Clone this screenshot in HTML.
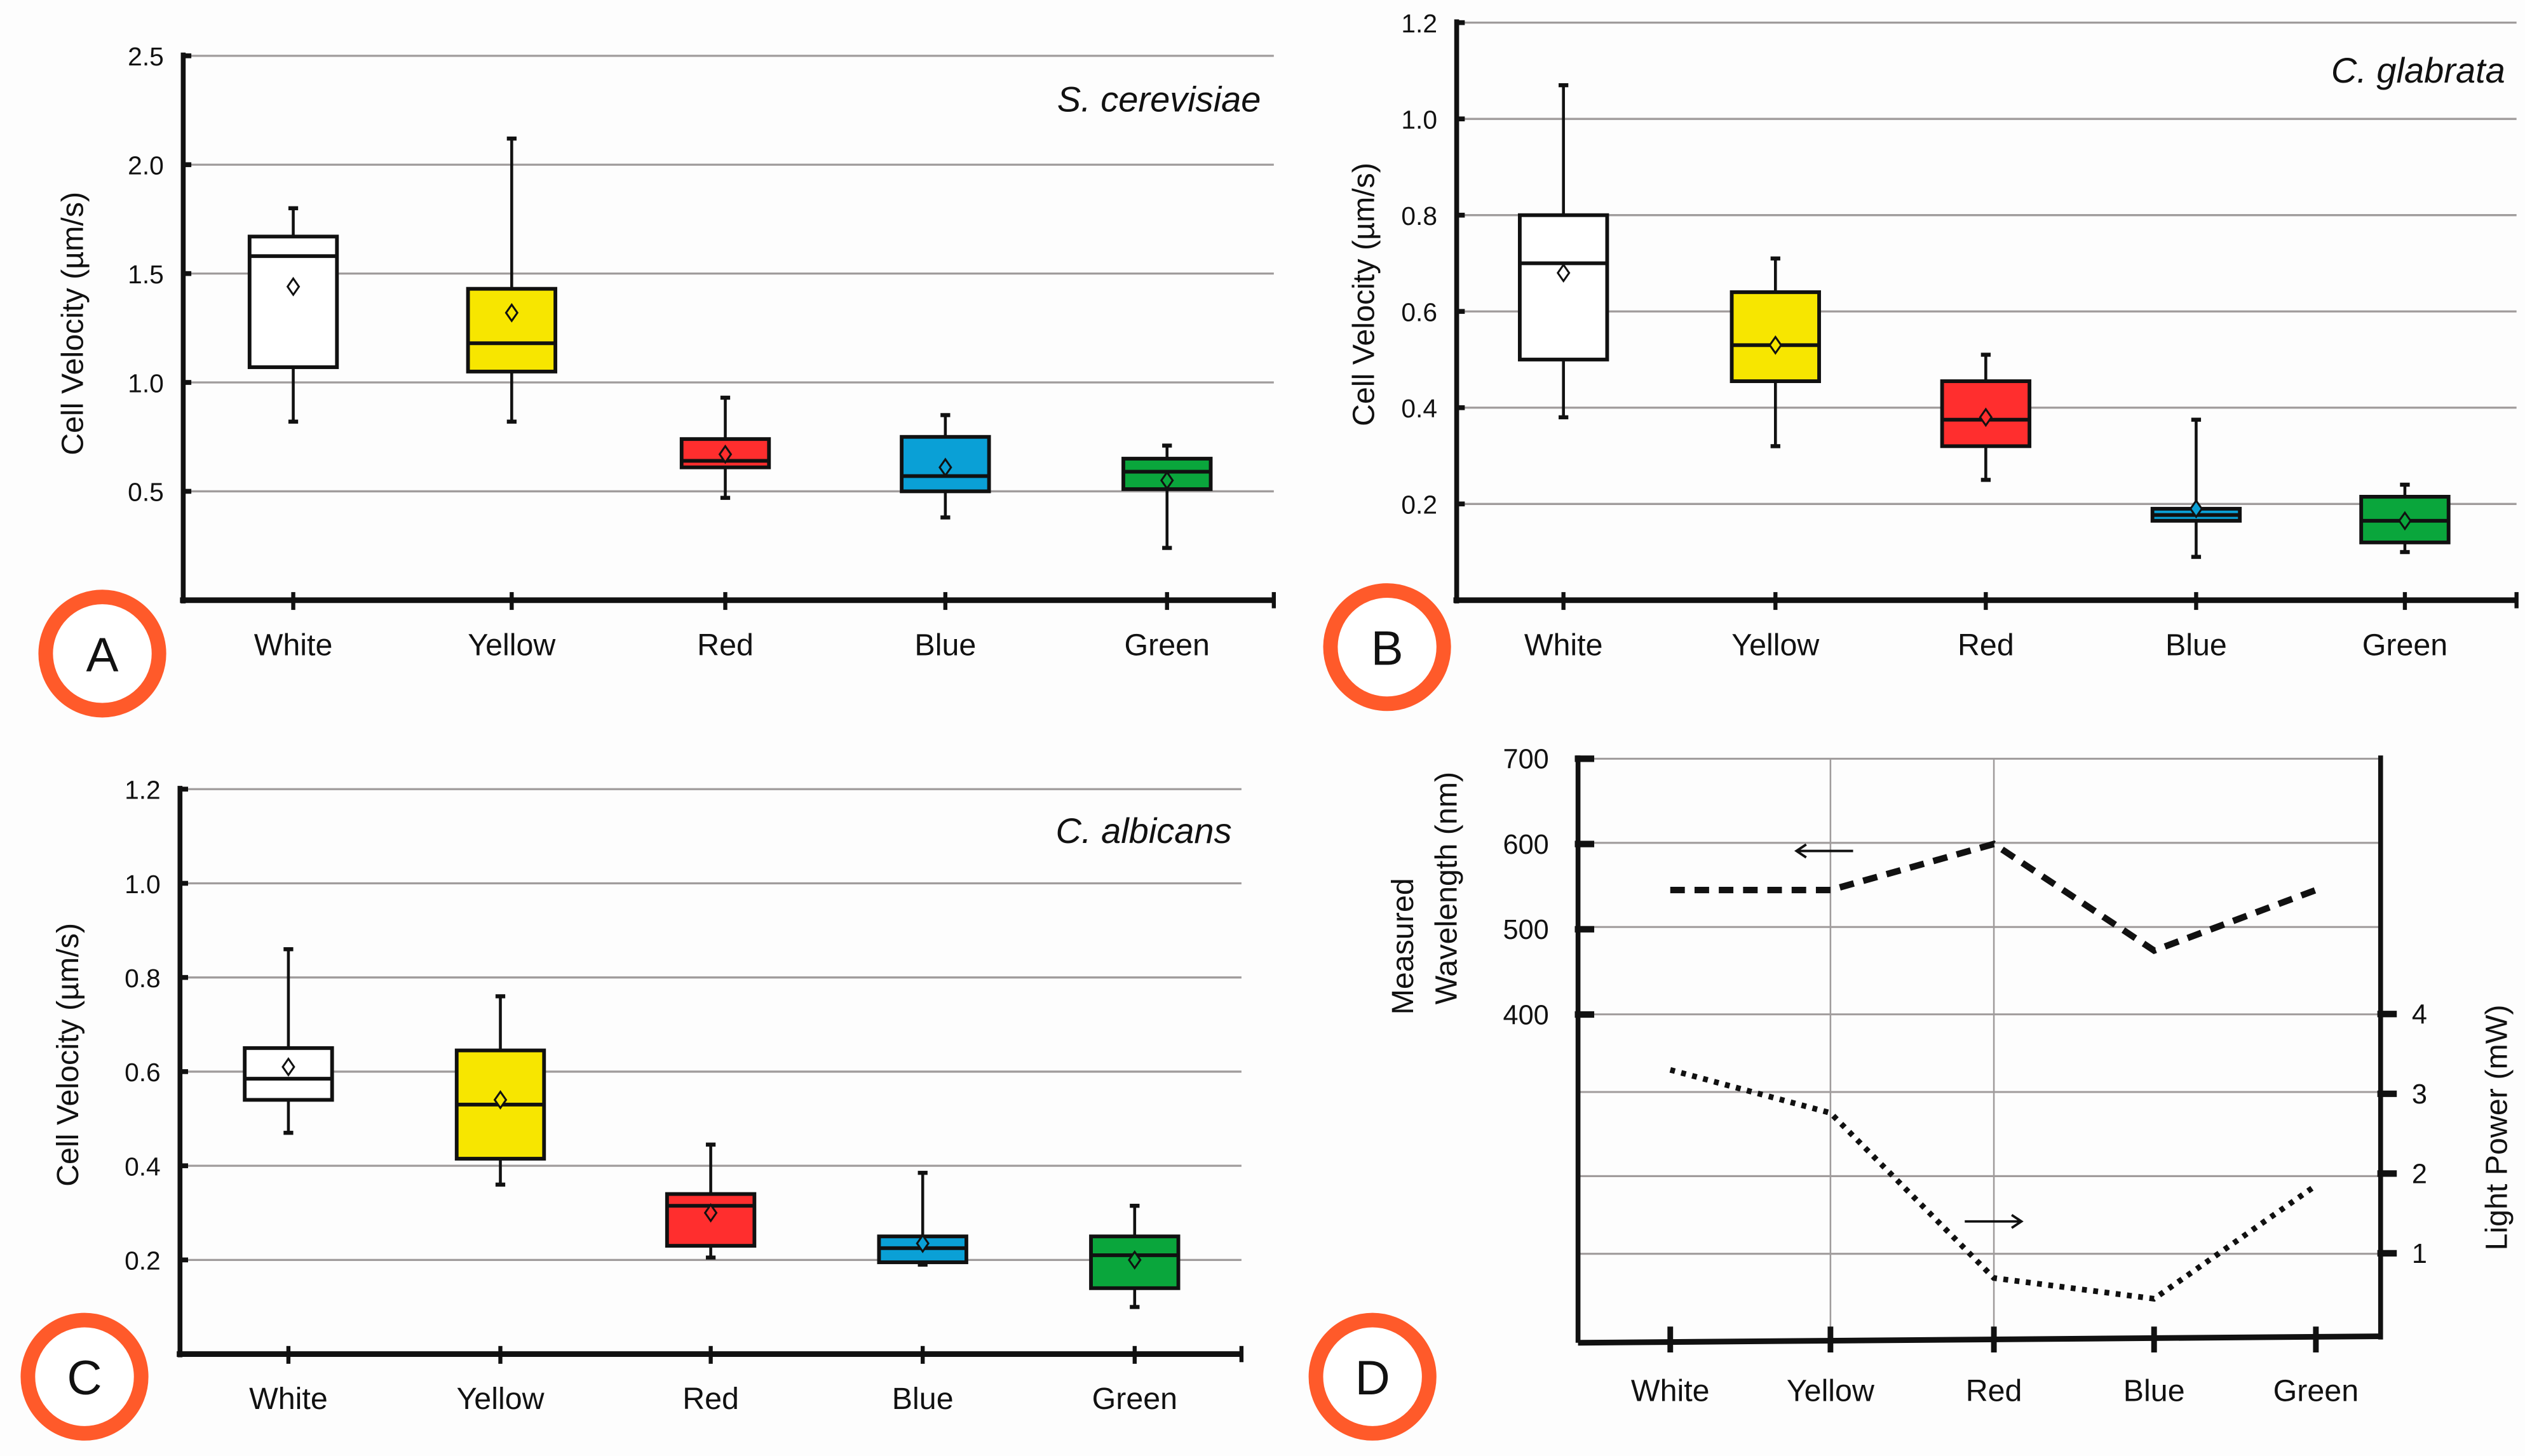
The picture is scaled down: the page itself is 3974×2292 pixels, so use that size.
<!DOCTYPE html>
<html><head><meta charset="utf-8"><style>
html,body{margin:0;padding:0;background:#fdfdfd}
svg{display:block}
text{font-family:"Liberation Sans",sans-serif;fill:#111}
</style></head><body>
<svg id="fig" xmlns="http://www.w3.org/2000/svg" width="3974" height="2292" viewBox="0 0 1560 900">
<rect x="0" y="0" width="1560" height="900" fill="#fdfdfd"/>
</svg>
<script>
const categories = ["White","Yellow","Red","Blue","Green"];
const boxColors = ["#ffffff","#f7e600","#ff2e2e","#0aa0d6","#0aa63c"];
// Panel A: S. cerevisiae  [whiskerLow, q1, median, q3, whiskerHigh, mean]
const aLow = [0.82,0.82,0.47,0.38,0.24];
const aQ1 = [1.07,1.05,0.61,0.50,0.51];
const aMed = [1.58,1.18,0.64,0.57,0.59];
const aQ3 = [1.67,1.43,0.74,0.75,0.65];
const aHigh = [1.80,2.12,0.93,0.85,0.71];
const aMean = [1.44,1.32,0.67,0.61,0.55];
const aTicks = [0.5,1.0,1.5,2.0,2.5];
// Panel B: C. glabrata
const bLow = [0.38,0.32,0.25,0.09,0.10];
const bQ1 = [0.50,0.455,0.32,0.165,0.12];
const bMed = [0.70,0.53,0.375,0.177,0.165];
const bQ3 = [0.80,0.64,0.455,0.19,0.215];
const bHigh = [1.07,0.71,0.51,0.375,0.24];
const bMean = [0.68,0.53,0.38,0.19,0.165];
const bTicks = [0.2,0.4,0.6,0.8,1.0,1.2];
// Panel C: C. albicans
const cLow = [0.47,0.36,0.205,0.19,0.10];
const cQ1 = [0.54,0.415,0.23,0.195,0.14];
const cMed = [0.585,0.53,0.315,0.225,0.21];
const cQ3 = [0.65,0.645,0.34,0.25,0.25];
const cHigh = [0.86,0.76,0.445,0.385,0.315];
const cMean = [0.61,0.54,0.30,0.235,0.20];
const cTicks = [0.2,0.4,0.6,0.8,1.0,1.2];
// Panel D
const wavelength = [546,546,600,475,546];
const lightPower = [3.3,2.76,0.69,0.43,1.85];
const wlTicks = [400,500,600,700];
const pwTicks = [1,2,3,4];

const svg = document.getElementById('fig');
const NS = "http://www.w3.org/2000/svg";
function el(tag, attrs, parent){
  const e = document.createElementNS(NS, tag);
  for (const k in attrs) e.setAttribute(k, attrs[k]);
  (parent||svg).appendChild(e);
  return e;
}
function txt(s, attrs, parent){ const t = el('text', attrs, parent); t.textContent = s; return t; }

function boxPanel(cfg){
  const g = el('g', {});
  
  
  const y = v => cfg.y0 - v * cfg.k;
  // gridlines
  cfg.ticks.forEach(t => {
    const gl = el('line', {x1:cfg.ax, x2:cfg.axEnd, y1:y(t), y2:y(t), stroke:'#a09c9c', 'stroke-width':1.3}, g);
    
    
    const tk = el('line', {x1:cfg.ax-1, x2:cfg.ax+5, y1:y(t), y2:y(t), stroke:'#111', 'stroke-width':3}, g);
    
    
    const tl = txt(t.toFixed(1), {x:cfg.ax-12, y:y(t)+6, 'font-size':16, 'text-anchor':'end'}, g);
    
    
  });
  const yAxis = el('line', {x1:cfg.ax, x2:cfg.ax, y1:y(cfg.ticks[cfg.ticks.length-1])-2, y2:cfg.y0+2, stroke:'#111', 'stroke-width':3}, g);
  
  
  const xAxis = el('line', {x1:cfg.ax-2, x2:cfg.axEnd, y1:cfg.y0, y2:cfg.y0, stroke:'#111', 'stroke-width':3.5}, g);
  
  
  const endTick = el('line', {x1:cfg.axEnd, x2:cfg.axEnd, y1:cfg.y0-5, y2:cfg.y0+5, stroke:'#111', 'stroke-width':2.5}, g);
  
  
  categories.forEach((c, i) => {
    const x = cfg.xs[i], w = 27;
    const tk = el('line', {x1:x, x2:x, y1:cfg.y0-5, y2:cfg.y0+6, stroke:'#111', 'stroke-width':2.5}, g);
    
    
    const lab = txt(c, {x:x, y:cfg.y0+34, 'font-size':19, 'text-anchor':'middle'}, g);
    
    
    const wh = el('line', {x1:x, x2:x, y1:y(cfg.high[i]), y2:y(cfg.low[i]), stroke:'#111', 'stroke-width':1.8}, g);
    
    
    [cfg.high[i], cfg.low[i]].forEach(v => {
      const cap = el('line', {x1:x-3, x2:x+3, y1:y(v), y2:y(v), stroke:'#111', 'stroke-width':2.5}, g);
      
      
    });
    const bx = el('rect', {x:x-w, y:y(cfg.q3[i]), width:2*w, height:y(cfg.q1[i])-y(cfg.q3[i]), fill:boxColors[i], stroke:'#111', 'stroke-width':2.3}, g);
    
    
    const md = el('line', {x1:x-w, x2:x+w, y1:y(cfg.med[i]), y2:y(cfg.med[i]), stroke:'#111', 'stroke-width':2.3}, g);
    
    
    const my = y(cfg.mean[i]);
    const mn = el('path', {d:`M${x} ${my-5} L${x+3.5} ${my} L${x} ${my+5} L${x-3.5} ${my} Z`, fill:boxColors[i], stroke:'#111', 'stroke-width':1.2}, g);
    
    
  });
  const yt = txt('Cell Velocity (µm/s)', {x:0, y:0, 'font-size':19, 'text-anchor':'middle', transform:`translate(${cfg.titleX},${cfg.titleY}) rotate(-90)`}, g);
  
  
  const sp = txt(cfg.species, {x:cfg.spX, y:cfg.spY, 'font-size':22, 'font-style':'italic', 'text-anchor':'end'}, g);
  
  
}

boxPanel({name:'panel-a', ax:113, axEnd:787, y0:371, k:134.6, ticks:aTicks, xs:[181,316,448,584,721],
  low:aLow,q1:aQ1,med:aMed,q3:aQ3,high:aHigh,mean:aMean, titleX:51, titleY:200, species:'S. cerevisiae', spX:779, spY:69});
boxPanel({name:'panel-b', ax:900, axEnd:1555, y0:371, k:297.5, ticks:bTicks, xs:[966,1097,1227,1357,1486],
  low:bLow,q1:bQ1,med:bMed,q3:bQ3,high:bHigh,mean:bMean, titleX:849, titleY:182, species:'C. glabrata', spX:1548, spY:51});
boxPanel({name:'panel-c', ax:111, axEnd:767, y0:837, k:291, ticks:cTicks, xs:[178,309,439,570,701],
  low:cLow,q1:cQ1,med:cMed,q3:cQ3,high:cHigh,mean:cMean, titleX:48, titleY:652, species:'C. albicans', spX:761, spY:521});

// Panel D
(function(){
  const g = el('g', {});
  
  
  const xs = [1032,1131,1232,1331,1431];
  const ax = 975, axR = 1471, y0 = 828;
  const yW = v => 469 + (700 - v) * 0.527;
  const yP = v => 824 - v * 49.3;
  [469,521,573,627,675,727,775].forEach(yy => {
    const gl = el('line', {x1:ax, x2:axR, y1:yy, y2:yy, stroke:'#a09c9c', 'stroke-width':1.2}, g);
    
    
  });
  [1131,1232].forEach(xx => {
    const vl = el('line', {x1:xx, x2:xx, y1:469, y2:y0, stroke:'#a09c9c', 'stroke-width':1}, g);
    
    
  });
  const la = el('line', {x1:ax, x2:ax, y1:467, y2:y0+2, stroke:'#111', 'stroke-width':3}, g);
  
  
  const ra = el('line', {x1:axR, x2:axR, y1:467, y2:y0, stroke:'#111', 'stroke-width':3}, g);
  
  
  const xa = el('line', {x1:ax, x2:axR, y1:y0+2, y2:y0-2, stroke:'#111', 'stroke-width':3.5}, g);
  
  
  wlTicks.forEach(t => {
    const tk = el('line', {x1:ax-2, x2:ax+10, y1:yW(t), y2:yW(t), stroke:'#111', 'stroke-width':4}, g);
    
    
    const tl = txt(String(t), {x:ax-18, y:yW(t)+6, 'font-size':17, 'text-anchor':'end'}, g);
    
    
  });
  pwTicks.forEach(t => {
    const tk = el('line', {x1:axR-2, x2:axR+10, y1:yP(t), y2:yP(t), stroke:'#111', 'stroke-width':4}, g);
    
    
    const tl = txt(String(t), {x:axR+24, y:yP(t)+6, 'font-size':17, 'text-anchor':'middle'}, g);
    
    
  });
  categories.forEach((c, i) => {
    const tk = el('line', {x1:xs[i], x2:xs[i], y1:y0-8, y2:y0+8, stroke:'#111', 'stroke-width':3.5}, g);
    
    
    const lab = txt(c, {x:xs[i], y:y0+38, 'font-size':19, 'text-anchor':'middle'}, g);
    
    
  });
  const wl = el('polyline', {points: xs.map((x,i)=>x+','+yW(wavelength[i])).join(' '), fill:'none', stroke:'#111', 'stroke-width':4, 'stroke-dasharray':'9 6'}, g);
  
  
  const pw = el('polyline', {points: xs.map((x,i)=>x+','+yP(lightPower[i])).join(' '), fill:'none', stroke:'#111', 'stroke-width':3.5, 'stroke-dasharray':'3 4'}, g);
  
  
  const a1 = el('path', {d:'M1145 526 L1110 526 M1116 522 L1110 526 L1116 530', fill:'none', stroke:'#111', 'stroke-width':1.5}, g);
  
  
  const a2 = el('path', {d:'M1214 755 L1249 755 M1243 751 L1249 755 L1243 759', fill:'none', stroke:'#111', 'stroke-width':1.5}, g);
  
  
  const t1 = txt('Measured', {x:0, y:0, 'font-size':19, 'text-anchor':'middle', transform:'translate(873,585) rotate(-90)'}, g);
  
  
  const t2 = txt('Wavelength (nm)', {x:0, y:0, 'font-size':19, 'text-anchor':'middle', transform:'translate(900,549) rotate(-90)'}, g);
  
  
  const t3 = txt('Light Power (mW)', {x:0, y:0, 'font-size':19, 'text-anchor':'middle', transform:'translate(1549,697) rotate(-90)'}, g);
  
  
})();

// Panel letter badges
[['A',63,404],['B',857,400],['C',52,851],['D',848,851]].forEach(b => {
  const g = el('g', {});
  
  
  el('ellipse', {cx:b[1], cy:b[2], rx:35, ry:35, fill:'#fff', stroke:'#ff5a2a', 'stroke-width':9}, g);
  txt(b[0], {x:b[1], y:b[2]+11, 'font-size':30, 'text-anchor':'middle'}, g);
});
</script>
</body></html>
